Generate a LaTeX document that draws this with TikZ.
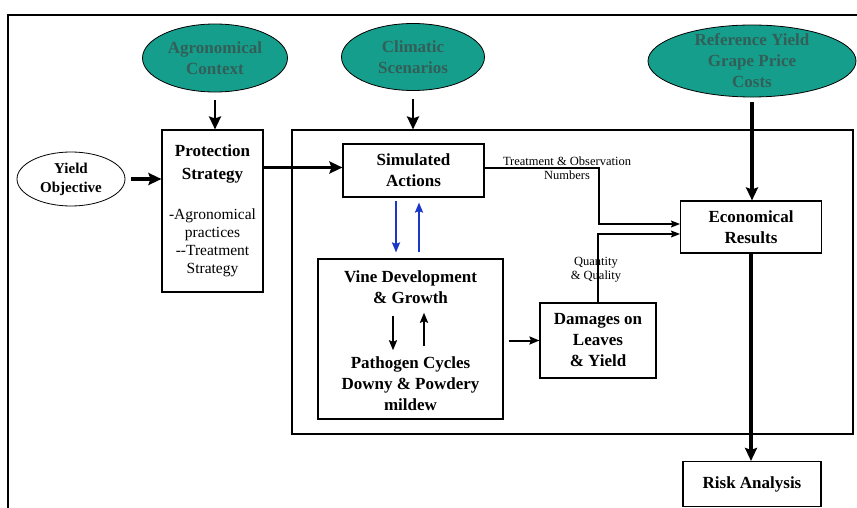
\documentclass[tikz,border=0pt]{standalone}
\usepackage{fontspec}
\setmainfont{Liberation Serif}
\usepackage{tikz}
\usetikzlibrary{positioning,calc,shapes.geometric,arrows.meta}
\definecolor{ellfill}{RGB}{22,158,140}
\definecolor{elltext}{RGB}{50,95,88}
\definecolor{loopblue}{RGB}{25,55,200}

\begin{document}
\begin{tikzpicture}[x=1pt, y=-1pt, -{Stealth[length=9pt, width=8pt, inset=1.5pt]}, thick,
    oval/.style={draw, ellipse, fill=ellfill, text=elltext, inner sep=0pt, align=center,
        font=\fontsize{17}{21}\selectfont\bfseries},
    box/.style={draw, rectangle, line width=1.1pt, align=center,
        font=\fontsize{17}{21}\selectfont\bfseries},
    lbl/.style={align=center, font=\fontsize{12.5}{14}\selectfont},
    big/.style={line width=3.2pt, -{Stealth[length=13pt, width=12pt, inset=2pt]}},
    mid/.style={line width=2pt, -{Stealth[length=10pt, width=8pt, inset=1.5pt]}},
    fine/.style={line width=1.1pt, -{Stealth[length=9pt, width=7pt, inset=1.5pt]}}]
\useasboundingbox (0,0) rectangle (857,508);
\draw[-, line width=1.3pt] (8,508) -- (8,15) -- (857,15);

\path (215,58) node[oval, minimum width=145pt, minimum height=68pt] (agro) {Agronomical\\Context};
\path (413,57) node[oval, minimum width=143pt, minimum height=67pt] (clim) {Climatic\\Scenarios};
\path (752,61) node[oval, minimum width=208pt, minimum height=72pt, inner ysep=-14pt] (ref) {Reference Yield\\Grape Price\\Costs};
\path (71,179) node[oval, fill=none, text=black, minimum width=108pt, minimum height=54pt,
    font=\fontsize{15}{19}\selectfont\bfseries] (yobj) {Yield\\Objective};

\path (212.5,211) node[box, minimum width=101pt, minimum height=162pt,
    font=\fontsize{15.5}{18}\selectfont] (prot)
    {\textbf{\fontsize{17}{21}\selectfont Protection}\\[5pt]\textbf{\fontsize{17}{21}\selectfont Strategy}\\[22pt]
     -Agronomical\\practices\\-{}-Treatment\\Strategy};
\path (572.5,282) node[draw, line width=1.1pt, minimum width=561pt, minimum height=304pt] (model) {};
\path (413.5,170.5) node[box, minimum width=141pt, minimum height=53pt] (sim) {Simulated\\Actions};
\path (410.5,339) node[box, minimum width=185pt, minimum height=160pt] (vine) {};
\path (410.5,287.5) node[font=\fontsize{17}{21}\selectfont\bfseries, align=center] (vgrow) {Vine Development\\\& Growth};
\path (410.5,384) node[font=\fontsize{17}{21}\selectfont\bfseries, align=center] (patho) {Pathogen Cycles\\Downy \& Powdery\\mildew};
\path (598,340.5) node[box, minimum width=116pt, minimum height=75pt] (dam) {Damages on\\Leaves\\\& Yield};
\path (751,227) node[box, minimum width=141pt, minimum height=52pt] (econ) {Economical\\Results};
\path (752,484) node[box, minimum width=138pt, minimum height=45pt] (risk) {Risk Analysis};

\path (567,168) node[lbl] (tobs) {Treatment \& Observation\\Numbers};
\path (596,270) node[lbl] (qual) {Quantity\\\& Quality};

% inputs
\draw[big, line width=2.6pt, shorten <=8pt] (agro.south) -- (agro.south |- prot.north);
\draw[big, line width=2.6pt, shorten <=8pt] (clim.south) -- (clim.south |- model.north);
\draw[big, shorten <=5pt] (ref.south) -- (ref.south |- econ.north);
\draw[big, shorten <=6pt] (yobj.east) -- (yobj.east -| prot.west);
\draw[big] ($(sim.west -| prot.east)+(0,-3)$) -- ($(sim.west)+(0,-3)$);

% simulation loop
\draw[mid, loopblue] ($(sim.south)+(-17.5,3)$) -- ($(vine.north)+(-14.5,-6)$);
\draw[mid, loopblue] ($(vine.north)+(8.5,-6)$) -- ($(sim.south)+(5.5,5)$);
\draw[mid] ($(vgrow.south)+(-17.5,8)$) -- ($(patho.north)+(-17.5,-3)$);
\draw[mid] ($(patho.north)+(13.5,-7)$) -- ($(vgrow.south)+(13.5,5)$);
\draw[mid, shorten <=5pt] (vine.east |- dam.west) -- (dam.west);

% results
\draw[fine] ($(sim.east)+(0,-2.5)$) -| ($(econ.west -| dam.north)+(1,-3)$) -- ($(econ.west)+(0,-3)$);
\draw[fine] (dam.north) |- ($(econ.west)+(0,7)$);
\draw[big] (econ.south) -- (econ.south |- risk.north);
\end{tikzpicture}
\end{document}
